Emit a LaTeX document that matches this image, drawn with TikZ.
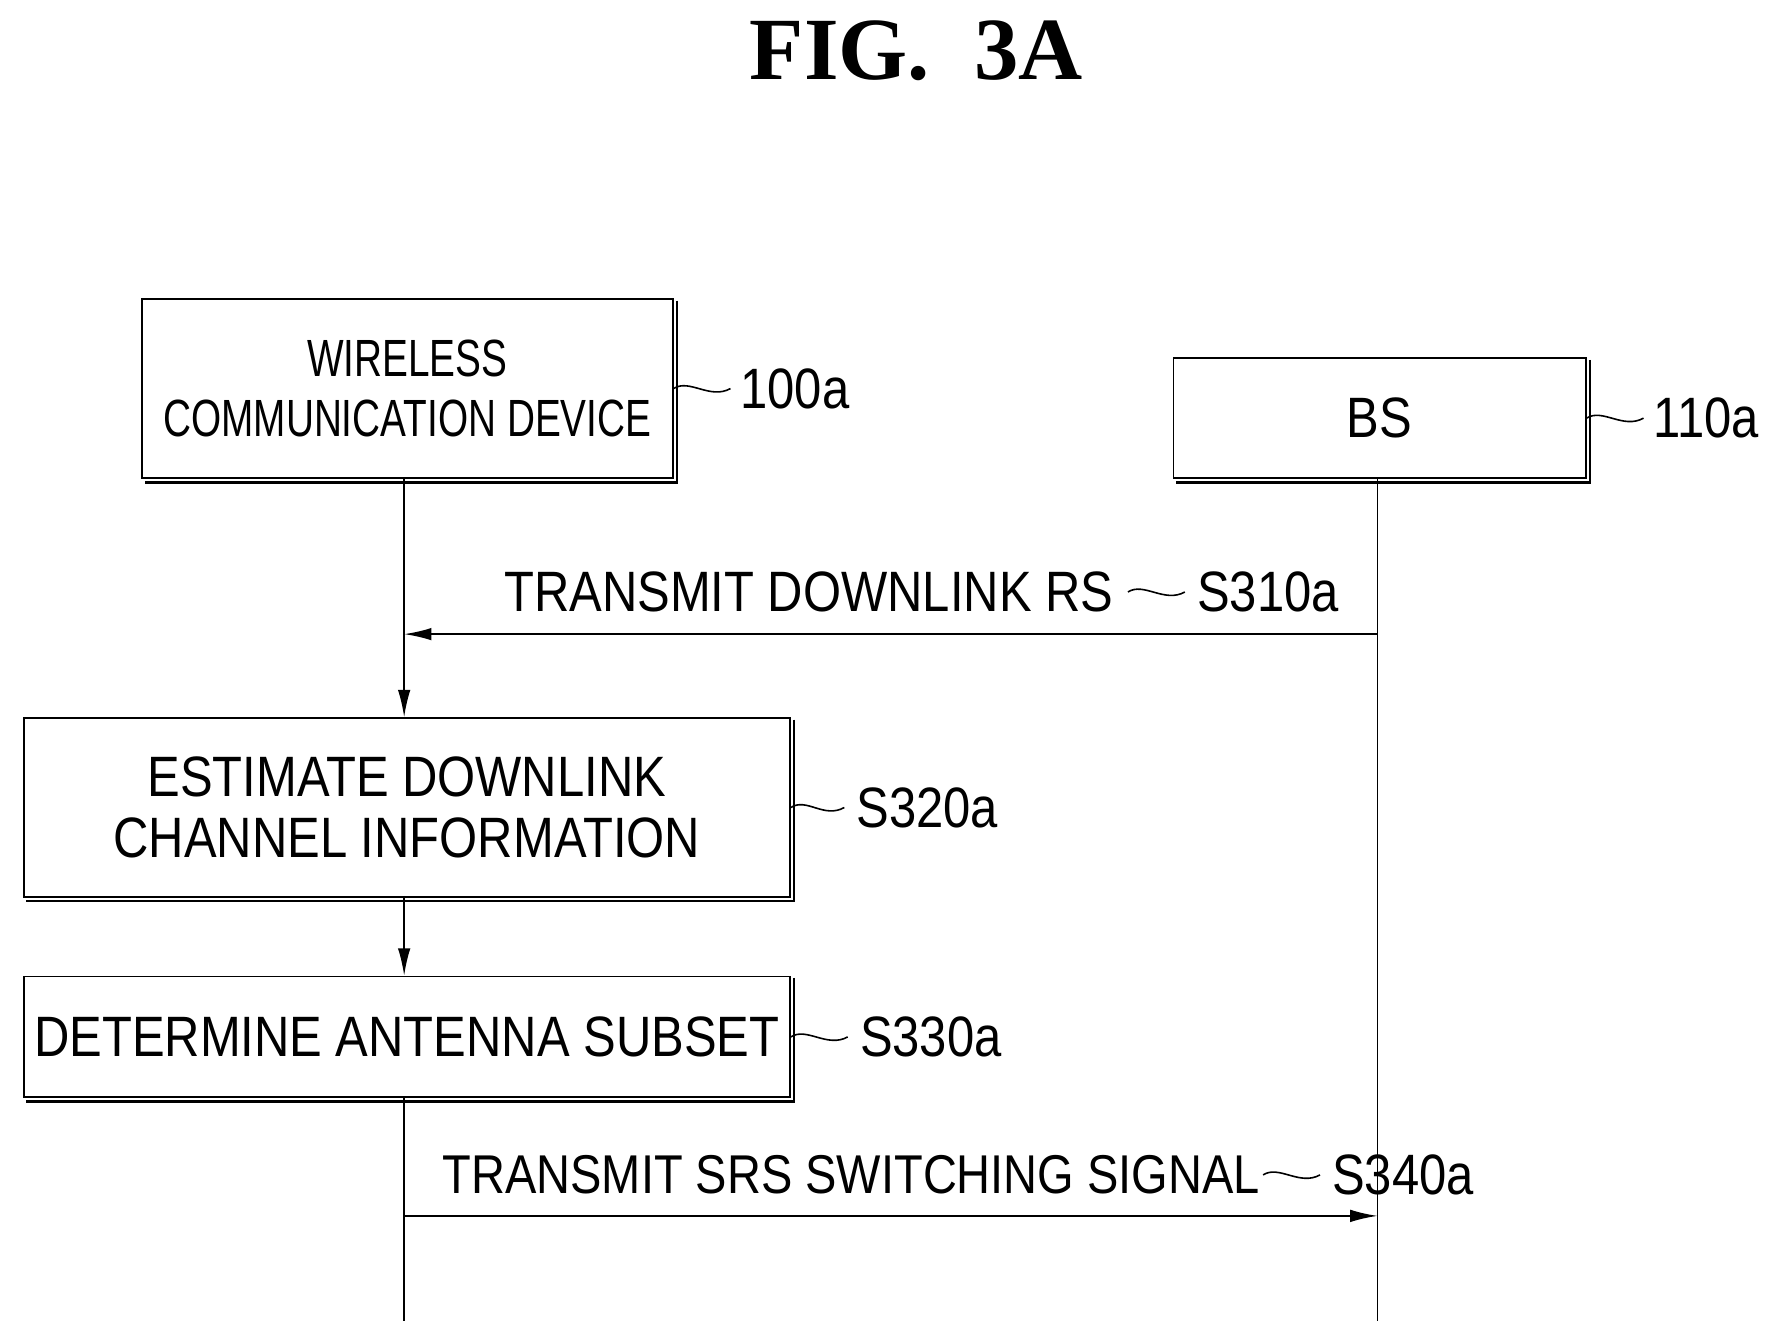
\documentclass[tikz,border=0pt]{standalone}
\usepackage{fontspec}
\setmainfont{Liberation Sans}
\newfontfamily\nar[FakeStretch=0.86]{Liberation Sans}
\newfontfamily\narr[FakeStretch=0.74]{Liberation Sans}
\newfontfamily\ttl{Liberation Serif}
\usetikzlibrary{arrows.meta}
\begin{document}
\begin{tikzpicture}[x=1pt,y=-1pt,line width=1.6pt,
  box/.style={draw,line width=1.6pt,minimum width=#1,inner sep=0pt,anchor=north west},
  txt/.style={font=\nar\fontsize{50}{60}\selectfont,inner sep=0pt},
  lab/.style={font=\nar\fontsize{50}{60}\selectfont,inner sep=0pt,anchor=west},
  arr/.style={-{Latex[length=24pt,width=11pt]}},
  ld/.style={line width=1.4pt}]
\useasboundingbox (0,0) rectangle (1560,1172);
\newcommand\shad[1]{\draw[line width=2.2pt] ([shift={(3,2)}]#1.north east) -- ([shift={(3,3)}]#1.south east) -- ([shift={(3,3)}]#1.south west);}
\newcommand\tld[3]{\draw[ld] (#1) .. controls +(14,-9) and +(-18,10) .. ++(#2,0) coordinate (#3);}
\node[font=\ttl\bfseries\fontsize{78}{90}\selectfont,inner sep=0pt] (title) at (805,45) {FIG.\ \ 3A};
% boxes
\node[box=466, minimum height=157, align=center, font=\narr\fontsize{46}{52}\selectfont] (b1) at (124,262) {WIRELESS\\COMMUNICATION DEVICE};
\node[box=362, minimum height=105, txt] (b2) at (1030,314) {BS};
\node[box=673, minimum height=157, align=center, font=\nar\fontsize{50}{53}\selectfont] (b3) at (20,630) {ESTIMATE DOWNLINK\\CHANNEL INFORMATION};
\node[box=673, minimum height=106, txt] (b4) at (20,857) {DETERMINE ANTENNA SUBSET};
\shad{b1}\shad{b2}\shad{b3}\shad{b4}
% lifelines
\coordinate (lA) at (355,557); \coordinate (rA) at (1210,557);
\coordinate (lB) at (355,1068); \coordinate (rB) at (1210,1068);
\coordinate (lE) at (355,1160); \coordinate (rE) at (1210,1160);
\draw (355,419) -- (lA);
\draw[arr] (lA) -- (355,630);
\draw[arr] (355,787) -- (355,857);
\draw (355,963) -- (lE);
\draw (1210,419) -- (rE);
\draw[arr] (rA) -- (lA);
\draw[arr] (lB) -- (rB);
% labels
\tld{b1.east}{50}{t1}\node[lab] (n1) at ([xshift=8]t1) {100a};
\tld{b2.east}{50}{t2}\node[lab] (n2) at ([xshift=8]t2) {110a};
\tld{b3.east}{47}{t3}\node[lab] (n3) at ([xshift=10]t3) {S320a};
\tld{b4.east}{50}{t4}\node[lab] (n4) at ([xshift=10]t4) {S330a};
\node[txt,anchor=west] (m1) at (442,520) {TRANSMIT DOWNLINK RS};
\coordinate (m1e) at ([xshift=12]m1.east);
\tld{m1e}{50}{t5}\node[lab] (n5) at ([xshift=10]t5) {S310a};
\node[txt,anchor=west,font=\nar\fontsize{48}{60}\selectfont] (m2) at (388,1032) {TRANSMIT SRS SWITCHING SIGNAL};
\coordinate (m2e) at ([xshift=2]m2.east);
\tld{m2e}{50}{t6}\node[lab] (n6) at ([xshift=10]t6) {S340a};
\end{tikzpicture}
\end{document}
